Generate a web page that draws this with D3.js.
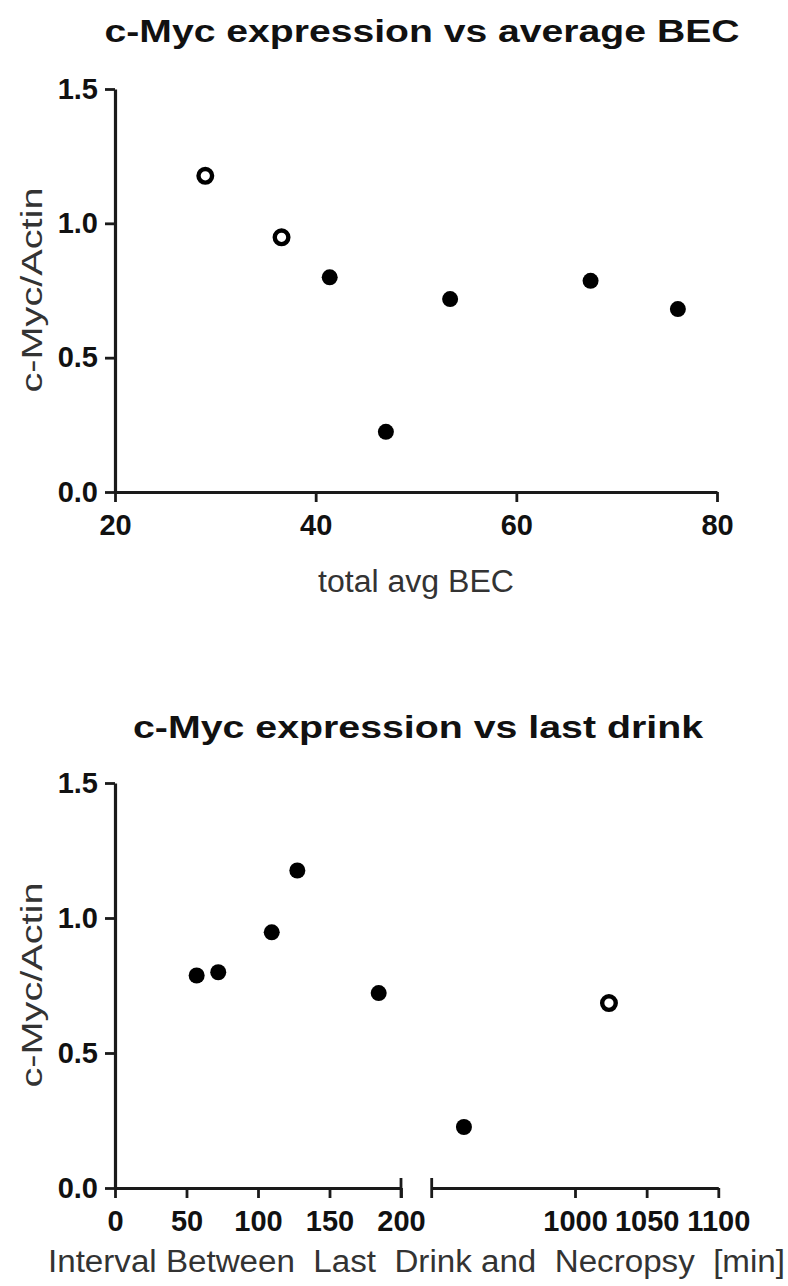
<!DOCTYPE html>
<html>
<head>
<meta charset="utf-8">
<style>
body { margin: 0; background: #fff; }
</style>
</head>
<body>
<svg id="chart" width="788" height="1286"></svg>
<script src="https://d3js.org/d3.v7.min.js"></script>
<script>

// top panel: c-Myc/Actin vs total avg BEC
var becValues   = [29.0, 36.6, 41.4, 47.0, 53.4, 67.4, 76.1];
var becRatio    = [1.177, 0.948, 0.799, 0.224, 0.718, 0.786, 0.681];
var becOpen     = [true, true, false, false, false, false, false];

// bottom panel: c-Myc/Actin vs interval between last drink and necropsy (min)
var drinkMinutes = [57.1, 72.2, 109.6, 127.5, 184.4, 922.5, 1023.7];
var drinkRatio   = [0.787, 0.799, 0.947, 1.176, 0.722, 0.226, 0.685];
var drinkOpen    = [false, false, false, false, false, false, true];

var yTicks = [0, 0.5, 1.0, 1.5];
var becTicks = [20, 40, 60, 80];
var drinkTicksLeft = [0, 50, 100, 150, 200];
var drinkTicksRight = [1000, 1050, 1100];

var fontFam = "'Liberation Sans', Arial, Helvetica, sans-serif";
var ink = "#1a1a1a";

var svg = d3.select("#chart");

function styleAxis(g) {
  g.attr("font-family", fontFam).attr("font-size", 29);
  g.select(".domain").attr("stroke", ink).attr("stroke-width", 3.2);
  g.selectAll(".tick line").attr("stroke", ink).attr("stroke-width", 2.8);
  g.selectAll(".tick text").attr("fill", "#111").attr("font-weight", "bold");
}

function title(text, cx, baseline, len) {
  svg.append("text")
    .attr("x", cx).attr("y", baseline)
    .attr("text-anchor", "middle")
    .attr("font-family", fontFam)
    .attr("font-weight", "bold")
    .attr("font-size", 31)
    .attr("fill", "#111")
    .attr("textLength", len)
    .attr("lengthAdjust", "spacingAndGlyphs")
    .text(text);
}

function axisLabel(text, x, y, len, rotate) {
  svg.append("text")
    .attr("transform", "translate(" + x + "," + y + ")" + (rotate ? " rotate(-90)" : ""))
    .attr("text-anchor", "middle")
    .attr("font-family", fontFam)
    .attr("font-size", rotate ? 29 : 31)
    .attr("fill", "#333")
    .attr("textLength", len)
    .attr("lengthAdjust", "spacingAndGlyphs")
    .style("white-space", "pre")
    .text(text);
}

function drawPoints(xs, ys, open, xScale, yScale) {
  var pts = xs.map(function(d, i) { return { x: d, y: ys[i], open: open[i] }; });
  svg.append("g").selectAll("circle")
    .data(pts).enter()
    .append("circle")
    .attr("cx", function(d) { return xScale(d.x); })
    .attr("cy", function(d) { return yScale(d.y); })
    .attr("r", function(d) { return d.open ? 6.8 : 8; })
    .attr("fill", function(d) { return d.open ? "#fff" : "#000"; })
    .attr("stroke", function(d) { return d.open ? "#000" : "none"; })
    .attr("stroke-width", 4.4);
}

// ---- top chart ----
var x1 = d3.scaleLinear().domain([20, 80]).range([115, 717]);
var y1 = d3.scaleLinear().domain([0, 1.5]).range([492, 89]);

title("c-Myc expression vs average BEC", 422, 42, 635);

svg.append("g")
  .attr("transform", "translate(0," + y1(0) + ")")
  .call(d3.axisBottom(x1).tickValues(becTicks).tickFormat(d3.format("d")).tickSize(10).tickSizeOuter(0).tickPadding(12))
  .call(styleAxis);

svg.append("g")
  .attr("transform", "translate(" + x1(20) + ",0)")
  .call(d3.axisLeft(y1).tickValues(yTicks).tickFormat(d3.format(".1f")).tickSize(10).tickSizeOuter(0).tickPadding(7))
  .call(styleAxis);

drawPoints(becValues, becRatio, becOpen, x1, y1);

axisLabel("total avg BEC", 416, 592, 196, false);
axisLabel("c-Myc/Actin", 42, 290, 205, true);

// ---- bottom chart (broken x axis) ----
var x2a = d3.scaleLinear().domain([0, 200]).range([115, 401]);
var x2b = d3.scaleLinear().domain([900, 1100]).range([431.7, 718.3]);
var y2 = d3.scaleLinear().domain([0, 1.5]).range([1188, 783]);

title("c-Myc expression vs last drink", 418, 738, 570);

svg.append("g")
  .attr("transform", "translate(0," + y2(0) + ")")
  .call(d3.axisBottom(x2a).tickValues(drinkTicksLeft).tickFormat(d3.format("d")).tickSize(10).tickSizeOuter(0).tickPadding(12))
  .call(styleAxis);

svg.append("g")
  .attr("transform", "translate(0," + y2(0) + ")")
  .call(d3.axisBottom(x2b).tickValues(drinkTicksRight).tickFormat(d3.format("d")).tickSize(10).tickSizeOuter(0).tickPadding(12))
  .call(styleAxis);

// break marks at both ends of the gap
svg.append("g").selectAll("line")
  .data([x2a(200), x2b(900)]).enter()
  .append("line")
  .attr("x1", function(d) { return d; })
  .attr("x2", function(d) { return d; })
  .attr("y1", y2(0) - 10)
  .attr("y2", y2(0) + 10)
  .attr("stroke", ink)
  .attr("stroke-width", 2.8);

svg.append("g")
  .attr("transform", "translate(" + x2a(0) + ",0)")
  .call(d3.axisLeft(y2).tickValues(yTicks).tickFormat(d3.format(".1f")).tickSize(10).tickSizeOuter(0).tickPadding(7))
  .call(styleAxis);

drawPoints(
  drinkMinutes, drinkRatio, drinkOpen,
  function(v) { return v <= 200 ? x2a(v) : x2b(v); }, y2);

axisLabel("Interval Between  Last  Drink and  Necropsy  [min]", 416.5, 1272, 737, false);
axisLabel("c-Myc/Actin", 42, 985, 205, true);

</script>
</body>
</html>
